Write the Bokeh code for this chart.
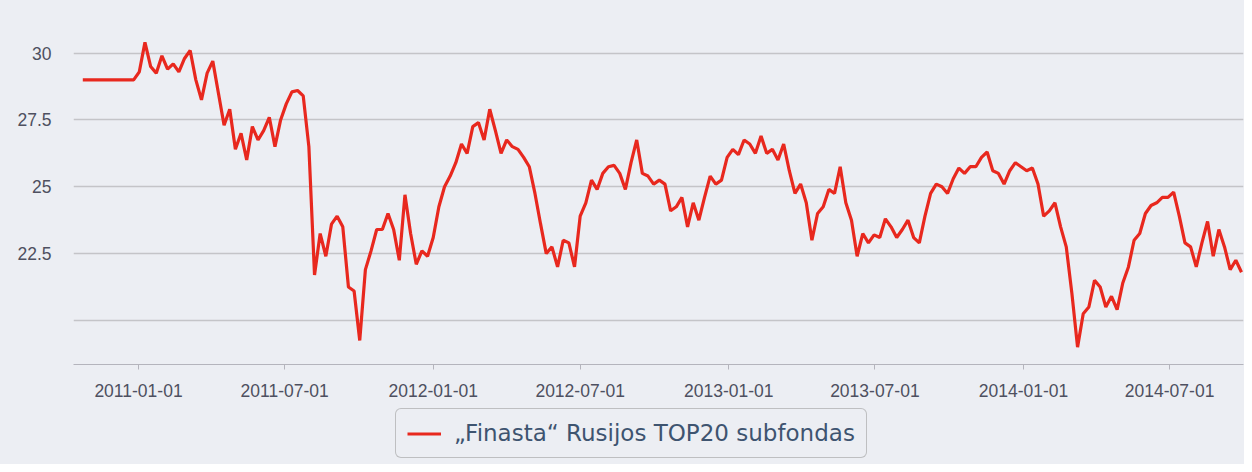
from datetime import datetime
import pandas as pd
from bokeh.plotting import figure
from bokeh.layouts import column
from bokeh.models import (Range1d, FixedTicker, DatetimeTickFormatter, CustomJSTickFormatter,
                          Legend, LegendItem, ColumnDataSource)
from bokeh.embed import file_html
from bokeh.resources import INLINE

# ---- data (weekly readings of the fund unit value) ----
series_name = "\u201eFinasta\u201c Rusijos TOP20 subfondas"
first_date = "2010-10-24"
unit_values = [
    29.0, 29.0, 29.0, 29.0, 29.0, 29.0, 29.0, 29.0, 29.0, 29.0,
    29.3, 30.4, 29.5, 29.25, 29.9, 29.4, 29.6, 29.3, 29.8, 30.1,
    29.0, 28.25, 29.25, 29.7, 28.5, 27.3, 27.9, 26.4, 27.0, 26.0,
    27.25, 26.75, 27.1, 27.6, 26.5, 27.5, 28.1, 28.55, 28.6, 28.4,
    26.5, 21.7, 23.25, 22.4, 23.6, 23.9, 23.5, 21.25, 21.1, 19.25,
    21.9, 22.6, 23.4, 23.4, 24.0, 23.4, 22.25, 24.7, 23.25, 22.1,
    22.6, 22.4, 23.1, 24.25, 25.0, 25.4, 25.9, 26.6, 26.25, 27.25,
    27.4, 26.75, 27.9, 27.1, 26.25, 26.75, 26.5, 26.4, 26.1, 25.75,
    24.75, 23.6, 22.5, 22.75, 22.0, 23.0, 22.9, 22.0, 23.9, 24.4,
    25.25, 24.9, 25.5, 25.75, 25.8, 25.5, 24.9, 25.9, 26.75, 25.5,
    25.4, 25.1, 25.25, 25.1, 24.1, 24.25, 24.6, 23.5, 24.4, 23.75,
    24.6, 25.4, 25.1, 25.25, 26.1, 26.4, 26.2, 26.75, 26.6, 26.25,
    26.9, 26.25, 26.4, 26.0, 26.6, 25.6, 24.75, 25.1, 24.4, 23.0,
    24.0, 24.25, 24.9, 24.75, 25.75, 24.4, 23.75, 22.4, 23.25, 22.9,
    23.2, 23.1, 23.8, 23.5, 23.1, 23.4, 23.75, 23.1, 22.9, 23.9,
    24.75, 25.1, 25.0, 24.75, 25.3, 25.7, 25.5, 25.75, 25.75, 26.1,
    26.3, 25.6, 25.5, 25.1, 25.6, 25.9, 25.75, 25.6, 25.7, 25.1,
    23.9, 24.1, 24.4, 23.5, 22.75, 21.0, 19.0, 20.25, 20.5, 21.5,
    21.25, 20.5, 20.9, 20.4, 21.4, 22.0, 23.0, 23.25, 24.0, 24.3,
    24.4, 24.6, 24.6, 24.8, 23.9, 22.9, 22.75, 22.0, 22.9, 23.7,
    22.4, 23.4, 22.75, 21.9, 22.25, 21.8,
]
x_tick_labels = ["2011-01-01", "2011-07-01", "2012-01-01", "2012-07-01",
                 "2013-01-01", "2013-07-01", "2014-01-01", "2014-07-01"]
y_ticks = [20, 22.5, 25, 27.5, 30]

dates = pd.date_range(start=first_date, periods=len(unit_values), freq="7D")
source = ColumnDataSource(data=dict(date=dates, value=unit_values))

BG = "#eceef3"
GRID = "#c4c4c8"
LABEL = "#4e5060"
LINE = "#e8281e"

p = figure(width=1244, height=406, x_axis_type="datetime",
           output_backend="svg", toolbar_location=None,
           x_range=Range1d(datetime(2010, 10, 12, 12), datetime(2014, 9, 30, 12)),
           y_range=Range1d(18.35, 31.22),
           min_border_left=73, min_border_right=1, min_border_top=20, min_border_bottom=42)
p.background_fill_color = BG
p.border_fill_color = BG
p.outline_line_color = None

p.line("date", "value", source=source, line_color=LINE, line_width=3.2)

# x axis
tick_ms = [pd.Timestamp(d).value // 10**6 for d in x_tick_labels]
p.xaxis.ticker = FixedTicker(ticks=tick_ms)
fmt = "%Y-%m-%d"
p.xaxis.formatter = DatetimeTickFormatter(milliseconds=fmt, seconds=fmt, minsec=fmt, minutes=fmt,
                                          hourmin=fmt, hours=fmt, days=fmt, months=fmt, years=fmt)
p.xaxis.axis_line_color = "#b4b4bc"
p.xaxis.major_tick_line_color = "#b4b4bc"
p.xaxis.major_tick_in = 0
p.xaxis.major_tick_out = 5
p.xaxis.minor_tick_line_color = None
p.xaxis.major_label_standoff = 14
p.xaxis.major_label_text_font = "Liberation Sans"
p.xaxis.major_label_text_font_size = "17.5px"
p.xaxis.major_label_text_color = LABEL
p.xgrid.grid_line_color = None

# y axis
p.yaxis.ticker = FixedTicker(ticks=y_ticks)
p.yaxis.formatter = CustomJSTickFormatter(code="return tick == 20 ? '' : String(tick);")
p.yaxis.axis_line_color = None
p.yaxis.major_tick_line_color = None
p.yaxis.minor_tick_line_color = None
p.yaxis.major_label_standoff = 16
p.yaxis.major_label_text_font = "Liberation Sans"
p.yaxis.major_label_text_font_size = "17.5px"
p.yaxis.major_label_text_color = LABEL
p.yaxis.major_label_text_baseline = "hanging"
p.ygrid.grid_line_color = GRID
p.ygrid.grid_line_width = 1.5

# legend strip below the chart (its frame is aligned with the chart's frame)
leg_fig = figure(width=1244, height=58, output_backend="svg", toolbar_location=None,
                 x_range=Range1d(0, 1), y_range=Range1d(0, 1),
                 min_border_left=73, min_border_right=1,
                 min_border_top=0, min_border_bottom=0)
leg_fig.background_fill_color = BG
leg_fig.border_fill_color = BG
leg_fig.outline_line_color = None
leg_fig.axis.visible = False
leg_fig.grid.grid_line_color = None
# same series, out of this strip's view: only its legend key is shown
key_line = leg_fig.line("date", "value", source=source, line_color=LINE, line_width=3)

legend = Legend(items=[LegendItem(label=series_name, renderers=[key_line])],
                location=(322, 6), orientation="horizontal")
legend.label_text_font = "DejaVu Sans"
legend.label_text_font_size = "23px"
legend.label_text_color = "#3e5470"
legend.border_line_color = "#909090"
legend.border_line_width = 1.5
legend.background_fill_color = BG
legend.background_fill_alpha = 1.0
legend.padding = 11
legend.margin = 0
legend.glyph_width = 34
legend.glyph_height = 21
legend.label_height = 23
legend.label_standoff = 13
if "border_radius" in Legend.properties():
    legend.border_radius = 6
leg_fig.add_layout(legend, "center")

layout = column(p, leg_fig, spacing=0, styles={"background-color": BG})
open("out.html", "w").write(file_html(layout, INLINE))
